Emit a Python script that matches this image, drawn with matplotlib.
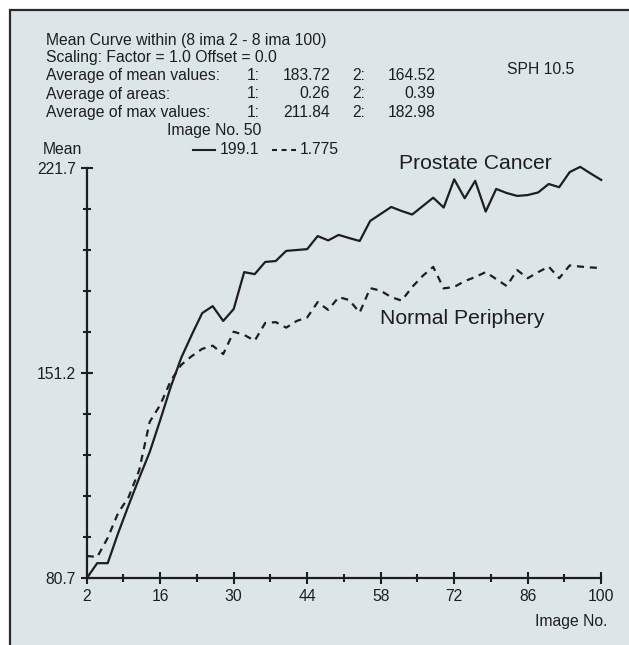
import matplotlib
matplotlib.use("Agg")
import matplotlib.pyplot as plt
from matplotlib.patches import Rectangle
from matplotlib.ticker import FixedLocator

plt.rcParams['font.family'] = ['Liberation Sans', 'DejaVu Sans']

# ---- data ----
image_no = [2, 4, 6, 8, 10, 12, 14, 16, 18, 20, 22, 24, 26, 28, 30, 32, 34, 36, 38, 40,
            42, 44, 46, 48, 50, 52, 54, 56, 58, 60, 62, 64, 66, 68, 70, 72, 74, 76, 78, 80,
            82, 84, 86, 88, 90, 92, 94, 96, 98, 100]
prostate_cancer = [80.7, 85.9, 85.9, 96.3, 105.9, 115.2, 124.1, 135.1, 146.5, 156.5,
                   164.4, 171.9, 174.3, 169.2, 173.3, 186.0, 185.3, 189.5, 189.8, 193.3,
                   193.6, 193.9, 198.4, 196.9, 198.8, 197.7, 196.7, 203.6, 206.0, 208.4,
                   207.0, 205.8, 208.7, 211.6, 208.2, 217.9, 211.4, 217.4, 206.8, 214.6,
                   213.2, 212.2, 212.5, 213.4, 216.3, 215.2, 220.4, 222.2, 219.9, 217.7]
normal_periphery = [88.4, 88.0, 94.6, 103.2, 108.7, 117.9, 134.5, 140.3, 148.6, 154.1,
                    157.1, 159.6, 160.7, 157.8, 165.5, 164.4, 162.4, 168.5, 168.8, 166.9,
                    169.2, 170.4, 175.7, 173.0, 177.4, 176.4, 172.1, 180.5, 179.6, 177.4,
                    176.2, 180.9, 184.7, 187.8, 180.4, 180.9, 182.9, 184.3, 186.0, 183.6,
                    181.2, 186.7, 183.9, 186.0, 187.9, 183.9, 188.3, 187.9, 187.6, 187.4]
x_major = [2, 16, 30, 44, 58, 72, 86, 100]
x_minor = [9, 23, 37, 51, 65, 79, 93]
y_major = [80.7, 151.2, 221.7]
y_labels = ["80.7", "151.2", "221.7"]
y_minor = [94.8, 108.9, 123.0, 137.1, 165.3, 179.4, 193.5, 207.6]

header_lines = ["Mean Curve within (8 ima 2 - 8 ima 100)",
                "Scaling: Factor = 1.0 Offset = 0.0"]
stat_rows = [("Average of mean values:", "183.72", "164.52"),
             ("Average of areas:", "0.26", "0.39"),
             ("Average of max values:", "211.84", "182.98")]

W, H = 629, 645
BG = '#dce6e8'
INK = '#1e1e1e'

fig = plt.figure(figsize=(W / 100, H / 100), dpi=100)
fig.patch.set_facecolor('white')

def fx(x):
    return x / W

def fy(y):
    return 1 - y / H

# panel with border on top/left
fig.patches.append(Rectangle((fx(10), -0.05), 1.1, fy(10) + 0.05, transform=fig.transFigure,
                             facecolor=BG, edgecolor='#2a2a2a', linewidth=1.6, zorder=-5))

ax = fig.add_axes([fx(86.7), fy(578.3), fx(601.2) - fx(86.7), fy(168.3) - fy(578.3)])
ax.set_zorder(2)
ax.set_facecolor('none')
ax.set_xlim(2, 100)
ax.set_ylim(80.7, 221.7)

ax.plot(image_no, prostate_cancer, color=INK, lw=1.6, clip_on=False, zorder=3)
ax.plot(image_no, normal_periphery, color=INK, lw=1.6, dashes=(3.2, 2.6), clip_on=False, zorder=3)

for s in ['top', 'right']:
    ax.spines[s].set_visible(False)
for s in ['left', 'bottom']:
    ax.spines[s].set_linewidth(1.6)
    ax.spines[s].set_color(INK)

ax.xaxis.set_major_locator(FixedLocator(x_major))
ax.xaxis.set_minor_locator(FixedLocator(x_minor))
ax.yaxis.set_major_locator(FixedLocator(y_major))
ax.yaxis.set_minor_locator(FixedLocator(y_minor))
ax.set_xticklabels([str(v) for v in x_major])
ax.set_yticklabels(y_labels)

ax.tick_params(which='major', direction='inout', length=8.8, width=1.5, color=INK,
               labelsize=11.3, labelcolor=INK)
ax.tick_params(which='minor', direction='inout', length=5.8, width=1.5, color=INK)
ax.tick_params(axis='y', which='major', pad=3.5)
ax.tick_params(axis='x', which='major', pad=3)

fs = 11.3
def t(x, y, s, ha='left', size=fs):
    fig.text(fx(x), fy(y), s, ha=ha, va='center', fontsize=size, color=INK, zorder=3)

t(45.7, 40, header_lines[0])
t(45.7, 57.3, header_lines[1])
ys = [75.7, 94, 112.3]
for (lab, v1, v2), y in zip(stat_rows, ys):
    t(45.7, y, lab)
    t(260, y, "1:", ha='right')
    t(330, y, v1, ha='right')
    t(365, y, "2:", ha='right')
    t(435.5, y, v2, ha='right')
t(507.4, 69.3, "SPH 10.5")
t(166.7, 131, "Image No. 50")
t(42.3, 150, "Mean")
fig.add_artist(plt.Line2D([fx(193.3), fx(215)], [fy(150), fy(150)], transform=fig.transFigure,
                          color=INK, lw=1.5))
t(220, 150, "199.1")
fig.add_artist(plt.Line2D([fx(271.7), fx(296)], [fy(150), fy(150)], transform=fig.transFigure,
                          color=INK, lw=1.5, dashes=(2.4, 2.2)))
t(300, 150, "1.775")
t(535, 621.7, "Image No.")
t(399.3, 163.3, "Prostate Cancer", size=15.2)
t(380, 318.5, "Normal Periphery", size=15.2)

fig.savefig("out.png", dpi=100, facecolor='white')
